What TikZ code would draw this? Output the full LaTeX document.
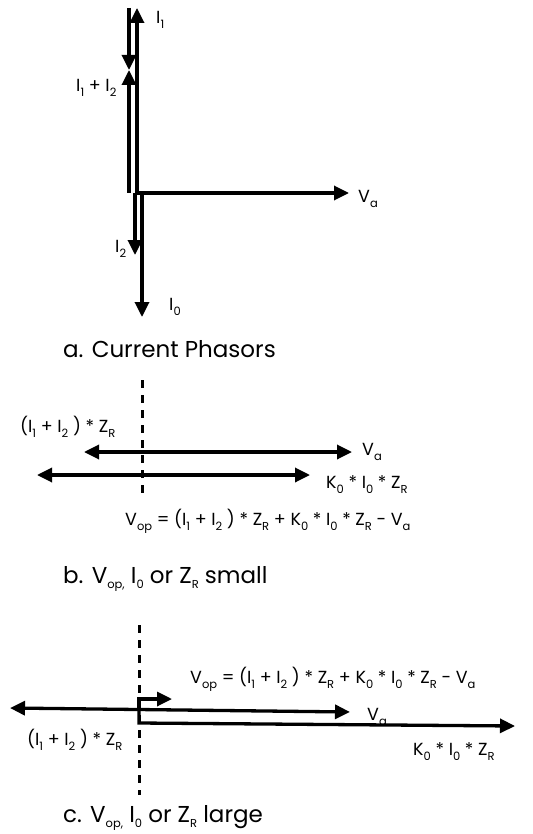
\documentclass[tikz,border=0pt]{standalone}
\usepackage{fontspec}
\usepackage{graphicx}
\setmainfont{Poppins}
\usetikzlibrary{arrows.meta}
\newcommand{\lsb}[1]{\raisebox{-5pt}{\fontsize{11.5}{12}\selectfont #1}}
\tikzset{
  vec/.style={line width=3.3pt, -{Triangle[length=15pt,width=14pt]}},
  dvec/.style={line width=3.3pt, {Triangle[length=15pt,width=14pt]}-{Triangle[length=15pt,width=14pt]}},
  axisline/.style={line width=3pt, dash pattern=on 8pt off 7pt},
  lbl/.style={anchor=base west, inner sep=0pt, font=\fontsize{17.5}{21}\selectfont},
  capt/.style={anchor=base west, inner sep=0pt, font=\fontsize{23}{28}\selectfont},
}
\begin{document}
\begin{tikzpicture}[x=1pt,y=-1pt]
\useasboundingbox (0,0) rectangle (532,834);
% ---------- a. current phasors
\coordinate (O) at (137,193);
\coordinate (I1) at (137,8);
\coordinate (I1top) at (129,8);
\coordinate (mid) at (129,70);
\coordinate (Ob) at (129,193);
\coordinate (Va) at (349,193);
\coordinate (I2s) at (135,193);
\coordinate (I2e) at (135,255);
\coordinate (I0s) at (142,195);
\coordinate (I0e) at (142,317);
\draw[vec] (O) -- (I1);
\draw[vec] (I1top) -- (mid);
\draw[vec] (Ob) -- (mid);
\draw[vec] (O) -- (Va);
\draw[vec] (I2s) -- (I2e);
\draw[vec] (I0s) -- (I0e);
\node[lbl] (lI1) at (156,24) {I\lsb{1}};
\node[lbl] (lI12) at (76,92) {I\lsb{1} + I\lsb{2}};
\node[lbl] (lVa) at (358,203) {V\lsb{a}};
\node[lbl] (lI2) at (115,252) {I\lsb{2}};
\node[lbl] (lI0) at (169,310) {I\lsb{0}};
\node[capt] (capa) at (63,357) {a. Current Phasors};
% ---------- b. small
\coordinate (bt) at (142,380);
\coordinate (bb) at (142,495);
\draw[axisline] (bt) -- (bb);
\coordinate (b1l) at (84,452);
\coordinate (b1r) at (352,452);
\coordinate (b2l) at (37,475);
\coordinate (b2r) at (310,475);
\draw[dvec] (b1l) -- (b1r);
\draw[dvec] (b2l) -- (b2r);
\node[lbl] (bI12) at (20,432) {(I\lsb{1} + I\lsb{2} ) * Z\lsb{R}};
\node[lbl] (bVa) at (362,455) {V\lsb{a}};
\node[lbl] (bK) at (326,488) {K\lsb{0} * I\lsb{0} * Z\lsb{R}};
\node[lbl] (bF) at (125,525) {V\lsb{op} = (I\lsb{1} + I\lsb{2} ) * Z\lsb{R} + K\lsb{0} * I\lsb{0} * Z\lsb{R} - V\lsb{a}};
\node[capt] (capb) at (63,583) {b. V\lsb{op,} I\lsb{0} or Z\lsb{R} small};
% ---------- c. large
\coordinate (ct) at (139,625);
\coordinate (cb) at (139,795);
\draw[axisline] (ct) -- (cb);
\coordinate (cO) at (139,710);
\coordinate (cV) at (172,699);
\draw[vec] (cO) |- (cV);
\coordinate (c1l) at (10,708);
\coordinate (c1r) at (350,712);
\draw[dvec] (c1l) -- (c1r);
\coordinate (cK0) at (139,723);
\coordinate (cK) at (515,726);
\draw[vec] (cO) -- (cK0) -- (cK);
\node[lbl] (cF) at (190,683) {V\lsb{op} = (I\lsb{1} + I\lsb{2} ) * Z\lsb{R} + K\lsb{0} * I\lsb{0} * Z\lsb{R} - V\lsb{a}};
\node[lbl] (cVa) at (367,720) {V\lsb{a}};
\node[lbl] (cI12) at (27,745) {(I\lsb{1} + I\lsb{2} ) * Z\lsb{R}};
\node[lbl] (cKl) at (413,755) {K\lsb{0} * I\lsb{0} * Z\lsb{R}};
\node[capt] (capc) at (63,822) {c. V\lsb{op,} I\lsb{0} or Z\lsb{R} large};
\end{tikzpicture}
\end{document}
